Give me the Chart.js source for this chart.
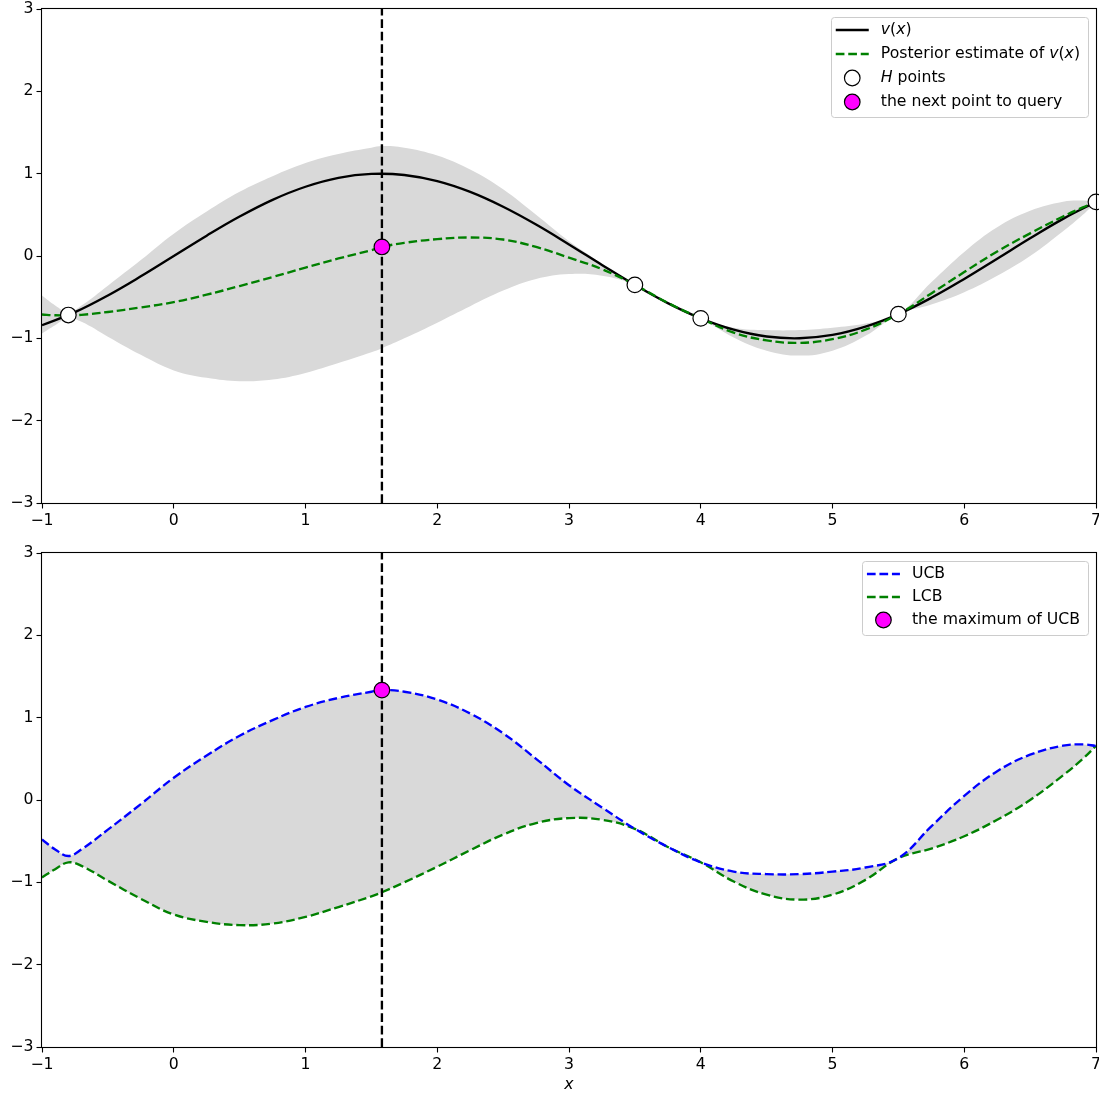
<!DOCTYPE html>
<html>
<head>
<meta charset="utf-8">
<script src="https://cdn.jsdelivr.net/npm/chart.js@4.4.1/dist/chart.umd.min.js"></script>
<style>
  html, body { margin: 0; padding: 0; background: #fff; }
  #top-wrap { position: absolute; left: 0; top: 0; }
  #bottom-wrap { position: absolute; left: 0; top: 530px; }
</style>
</head>
<body>
<div id="top-wrap"><canvas id="top-chart" width="1099" height="530"></canvas></div>
<div id="bottom-wrap"><canvas id="bottom-chart" width="1099" height="563"></canvas></div>
<script>
// true function v(x)
const trueX = [-1, -0.75, -0.5, -0.25, 0, 0.25, 0.5, 0.75, 1, 1.25, 1.5, 1.75, 2, 2.25, 2.5, 2.75, 3,
               3.25, 3.5, 3.75, 4, 4.25, 4.5, 4.75, 5, 5.25, 5.5, 5.75, 6, 6.25, 6.5, 6.75, 7];
const trueY = [-0.841, -0.682, -0.479, -0.247, 0, 0.247, 0.479, 0.682, 0.841, 0.949, 0.997, 0.984, 0.909,
               0.778, 0.598, 0.382, 0.141, -0.108, -0.351, -0.572, -0.757, -0.895, -0.978, -0.999, -0.959,
               -0.859, -0.706, -0.508, -0.279, -0.033, 0.215, 0.451, 0.657];

// posterior grid: mean, upper and lower confidence bounds
const gridX = [-1, -0.9, -0.8, -0.7, -0.5, -0.25, 0, 0.25, 0.5, 0.75, 1, 1.25, 1.5, 1.58, 1.75, 2, 2.25, 2.5,
               2.75, 3, 3.25, 3.5, 3.75, 4, 4.25, 4.5, 4.75, 5, 5.25, 5.5, 5.75, 6, 6.25, 6.5, 6.75, 6.9, 7];
const meanY = [-0.71, -0.72, -0.72, -0.715, -0.68, -0.625, -0.56, -0.47, -0.365, -0.255, -0.14, -0.03, 0.07, 0.11,
               0.16, 0.205, 0.225, 0.20, 0.11, -0.02, -0.16, -0.35, -0.57, -0.757, -0.93, -1.025, -1.055, -1.01,
               -0.895, -0.706, -0.455, -0.195, 0.055, 0.275, 0.48, 0.59, 0.657];
const ucbY = [-0.48, -0.60, -0.68, -0.60, -0.36, -0.05, 0.27, 0.54, 0.78, 0.97, 1.13, 1.24, 1.315, 1.335, 1.315,
              1.22, 1.05, 0.81, 0.50, 0.18, -0.09, -0.35, -0.57, -0.757, -0.87, -0.90, -0.90, -0.87, -0.82,
              -0.706, -0.32, 0.05, 0.35, 0.55, 0.66, 0.675, 0.657];
const lcbY = [-0.94, -0.84, -0.757, -0.80, -0.98, -1.20, -1.39, -1.48, -1.52, -1.50, -1.42, -1.30, -1.17, -1.12,
              -1.00, -0.81, -0.61, -0.42, -0.28, -0.22, -0.24, -0.35, -0.57, -0.757, -0.99, -1.15, -1.21, -1.15,
              -0.97, -0.706, -0.59, -0.44, -0.24, 0.0, 0.30, 0.50, 0.657];

// observed H points
const hX = [-0.8, 3.5, 4, 5.5, 7];
const hY = [-0.717, -0.351, -0.757, -0.706, 0.657];

// next query / maximum of UCB
const queryX = 1.58;
const queryMeanY = 0.11;
const queryUcbY = 1.335;

const xTicks = [-1, 0, 1, 2, 3, 4, 5, 6, 7];
const yTicks = [-3, -2, -1, 0, 1, 2, 3];

const FONT = '"DejaVu Sans", sans-serif';
const FS = 15.7;
const DASH = [8.7, 3.8];
const LW = 2.35;
const BAND = '#d9d9d9';

const pts = (xs, ys) => xs.map((x, i) => ({ x: x, y: ys[i] }));
const minus = v => String(v).replace('-', '\u2212');

function makeScales(xHeight) {
  const noPad = s => { s.paddingLeft = 0; s.paddingRight = 0; s.paddingTop = 0; s.paddingBottom = 0; };
  return {
    x: {
      type: 'linear', min: xTicks[0], max: xTicks[xTicks.length - 1],
      afterBuildTicks: s => { s.ticks = xTicks.map(v => ({ value: v })); },
      ticks: { color: '#000', font: { family: FONT, size: FS }, padding: 3, maxRotation: 0, autoSkip: false, callback: minus },
      grid: { drawOnChartArea: false, drawTicks: true, tickLength: 5.5, tickColor: '#000', tickWidth: 1.1 },
      border: { display: false },
      afterFit: s => { s.height = xHeight; noPad(s); }
    },
    y: {
      type: 'linear', min: yTicks[0], max: yTicks[yTicks.length - 1],
      afterBuildTicks: s => { s.ticks = yTicks.map(v => ({ value: v })); },
      ticks: { color: '#000', font: { family: FONT, size: FS }, padding: 3, autoSkip: false, callback: minus },
      grid: { drawOnChartArea: false, drawTicks: true, tickLength: 5.5, tickColor: '#000', tickWidth: 1.1 },
      border: { display: false },
      afterFit: s => { s.width = 42; noPad(s); }
    }
  };
}

const framePlugin = {
  id: 'frame',
  afterDatasetsDraw(chart) {
    const ctx = chart.ctx, a = chart.chartArea;
    ctx.save();
    ctx.strokeStyle = '#000';
    ctx.lineWidth = 1.1;
    ctx.strokeRect(Math.round(a.left) - 0.5, Math.round(a.top) - 0.5,
                   Math.round(a.right - a.left) + 1, Math.round(a.bottom - a.top) + 1);
    ctx.restore();
  }
};

function legendPlugin(items, rowH) {
  return {
    id: 'boxLegend',
    afterDraw(chart) {
      const ctx = chart.ctx, a = chart.chartArea;
      ctx.save();
      const setFont = it => { ctx.font = (it ? 'italic ' : '') + FS + 'px ' + FONT; };
      const widthOf = parts => parts.reduce((w, p) => { setFont(p[1]); return w + ctx.measureText(p[0]).width; }, 0);
      const textW = Math.max(...items.map(it => widthOf(it.text)));
      const w = 5 + 33 + 12 + textW + 8;
      const h = rowH * (items.length - 1) + 27.5;
      const x0 = a.right - 8 - w, y0 = a.top + 8;

      ctx.beginPath();
      ctx.roundRect(Math.round(x0) + 0.5, Math.round(y0) + 0.5, Math.round(w), Math.round(h), 3);
      ctx.fillStyle = 'rgba(255,255,255,0.8)';
      ctx.fill();
      ctx.strokeStyle = '#cccccc';
      ctx.lineWidth = 1;
      ctx.stroke();

      items.forEach((it, i) => {
        const cy = y0 + 13 + rowH * i;
        if (it.kind === 'line') {
          ctx.beginPath();
          ctx.setLineDash(it.dash ? DASH : []);
          ctx.strokeStyle = it.color;
          ctx.lineWidth = LW;
          ctx.moveTo(x0 + 5, cy);
          ctx.lineTo(x0 + 38, cy);
          ctx.stroke();
          ctx.setLineDash([]);
        } else {
          ctx.beginPath();
          ctx.arc(x0 + 21.5, cy, 7.8, 0, Math.PI * 2);
          ctx.fillStyle = it.fill;
          ctx.fill();
          ctx.strokeStyle = '#000';
          ctx.lineWidth = 1.2;
          ctx.stroke();
        }
        let tx = x0 + 50;
        ctx.fillStyle = '#000';
        ctx.textBaseline = 'middle';
        ctx.textAlign = 'left';
        it.text.forEach(p => {
          setFont(p[1]);
          ctx.fillText(p[0], tx, cy);
          tx += ctx.measureText(p[0]).width;
        });
      });
      ctx.restore();
    }
  };
}

const xLabelPlugin = {
  id: 'xLabel',
  afterDraw(chart) {
    const ctx = chart.ctx, a = chart.chartArea;
    ctx.save();
    ctx.font = 'italic ' + FS + 'px ' + FONT;
    ctx.fillStyle = '#000';
    ctx.textAlign = 'center';
    ctx.textBaseline = 'middle';
    ctx.fillText('x', (a.left + a.right) / 2, a.bottom + 38);
    ctx.restore();
  }
};

const common = {
  responsive: false,
  animation: false,
  events: [],
  plugins: { legend: { display: false }, tooltip: { enabled: false }, filler: { drawTime: 'beforeDatasetsDraw' } }
};

const curve = (data, color, dashed, order) => ({
  data: data, borderColor: color, borderWidth: LW, borderDash: dashed ? DASH : [],
  pointRadius: 0, fill: false, tension: 0.4, order: order
});

const vline = order => ({
  data: [{ x: queryX, y: yTicks[0] }, { x: queryX, y: yTicks[yTicks.length - 1] }],
  borderColor: '#000', borderWidth: LW, borderDash: DASH, pointRadius: 0, tension: 0, fill: false, order: order
});

const markers = (data, fill, order) => ({
  data: data, showLine: false, pointRadius: 7.8, pointBorderWidth: 1.2,
  pointBackgroundColor: fill, pointBorderColor: '#000', clip: false, order: order
});

new Chart(document.getElementById('top-chart'), {
  type: 'line',
  data: {
    datasets: [
      { data: pts(gridX, ucbY), borderWidth: 0, pointRadius: 0, backgroundColor: BAND, fill: '+1',
        tension: 0.4, order: 7 },
      { data: pts(gridX, lcbY), borderWidth: 0, pointRadius: 0, fill: false, tension: 0.4, order: 8 },
      curve(pts(trueX, trueY), '#000', false, 4),
      curve(pts(gridX, meanY), '#008000', true, 3),
      vline(2),
      markers(pts(hX, hY), '#ffffff', 1),
      markers([{ x: queryX, y: queryMeanY }], '#ff00ff', 0)
    ]
  },
  options: Object.assign({}, common, {
    layout: { autoPadding: false, padding: { left: 0, right: 3, top: 9, bottom: 0 } },
    scales: makeScales(27)
  }),
  plugins: [framePlugin, legendPlugin([
    { kind: 'line', color: '#000', dash: false, text: [['v', true], ['(', false], ['x', true], [')', false]] },
    { kind: 'line', color: '#008000', dash: true, text: [['Posterior estimate of ', false], ['v', true], ['(', false], ['x', true], [')', false]] },
    { kind: 'marker', fill: '#ffffff', text: [['H', true], [' points', false]] },
    { kind: 'marker', fill: '#ff00ff', text: [['the next point to query', false]] }
  ], 24)]
});

new Chart(document.getElementById('bottom-chart'), {
  type: 'line',
  data: {
    datasets: [
      Object.assign(curve(pts(gridX, ucbY), '#0000ff', true, 2), { fill: '+1', backgroundColor: BAND }),
      curve(pts(gridX, lcbY), '#008000', true, 3),
      vline(1),
      markers([{ x: queryX, y: queryUcbY }], '#ff00ff', 0)
    ]
  },
  options: Object.assign({}, common, {
    layout: { autoPadding: false, padding: { left: 0, right: 3, top: 23, bottom: 0 } },
    scales: makeScales(46)
  }),
  plugins: [framePlugin, xLabelPlugin, legendPlugin([
    { kind: 'line', color: '#0000ff', dash: true, text: [['UCB', false]] },
    { kind: 'line', color: '#008000', dash: true, text: [['LCB', false]] },
    { kind: 'marker', fill: '#ff00ff', text: [['the maximum of UCB', false]] }
  ], 23)]
});
</script>
</body>
</html>
